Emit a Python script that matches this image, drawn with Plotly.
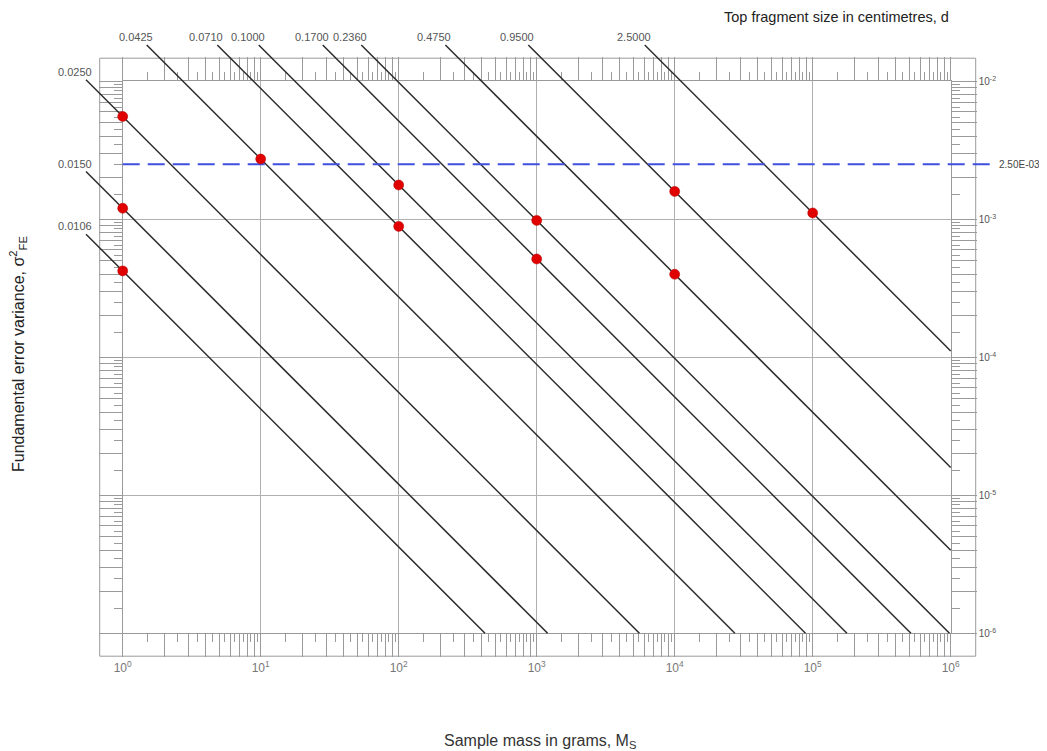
import numpy as np
import plotly.graph_objects as go

# ------------------------------------------------------------------ data
d_labels = ["0.0106", "0.0150", "0.0250", "0.0425", "0.0710", "0.1000",
            "0.1700", "0.2360", "0.4750", "0.9500", "2.5000"]
# sampling stage (red dot) on each line: sample mass (g) and FE variance
dot_mass = [1, 1, 1, 10, 100, 100, 1000, 1000, 1e4, 1e4, 1e5]
dot_var = [4.22e-4, 1.20e-3, 5.55e-3, 2.73e-3, 8.87e-4, 1.77e-3,
           5.15e-4, 9.80e-4, 3.99e-4, 1.59e-3, 1.11e-3]
safety_var = 2.5e-3
safety_label = "2.50E-03"

x_decades = [0, 1, 2, 3, 4, 5, 6]
x_tick_labels = ["10<sup>0</sup>", "10<sup>1</sup>", "10<sup>2</sup>", "10<sup>3</sup>",
                 "10<sup>4</sup>", "10<sup>5</sup>", "10<sup>6</sup>"]
y_decades = [-6, -5, -4, -3, -2]
y_tick_labels = ["10<sup>-6</sup>", "10<sup>-5</sup>", "10<sup>-4</sup>",
                 "10<sup>-3</sup>", "10<sup>-2</sup>"]

# ------------------------------------------------------------------ geometry (page pixels)
W, H = 1047, 751
OFF = 8                              # page body margin
X0, Y0, D = 122.7, 81.2, 138.0      # px of M=1, px of var=1e-2, px per decade
BAND = 23
FONT = "Liberation Sans, Arial, Helvetica, sans-serif"


def fx(px):
    return (px - OFF) / W


def fy(py):
    return 1 - (py - OFF) / H


def logm_at(px):
    return (px - X0) / D


def logv_at(py):
    return -2 - (py - Y0) / D


LOGM_LEFT = logm_at(86)      # where lines starting on the left begin
LOGV_TOP = logv_at(45)       # where lines starting on top begin
XMIN, XMAX = x_decades[0], x_decades[-1]
YMIN, YMAX = y_decades[0], y_decades[-1]

GRAY = "#9a9a9a"
LINE = "#2b2b2b"

# ruler ticks
x_int = [m * 10.0 ** k for k in range(XMIN, XMAX) for m in range(1, 10)] + [10.0 ** XMAX]
x_half = [(m + 0.5) * 10.0 ** k for k in range(XMIN, XMAX) for m in range(1, 10)]
x_int_text = [x_tick_labels[x_decades.index(int(round(np.log10(v))))]
              if abs(np.log10(v) - round(np.log10(v))) < 1e-9 else "" for v in x_int]
y_int = [m * 10.0 ** k for k in range(YMIN, YMAX) for m in range(1, 10)] + [10.0 ** YMAX]
y_half = [(m + 0.5) * 10.0 ** k for k in range(YMIN, YMAX) for m in range(1, 10)]
y_int_text = [y_tick_labels[y_decades.index(int(round(np.log10(v))))]
              if abs(np.log10(v) - round(np.log10(v))) < 1e-9 else "" for v in y_int]

fig = go.Figure()

# empty traces so every axis is drawn
for xa, ya in [("x", "y"), ("x2", "y2"), ("x3", "y3")]:
    fig.add_trace(go.Scatter(x=[None], y=[None], xaxis=xa, yaxis=ya,
                             showlegend=False, hoverinfo="skip"))

# ---- nomogram lines (slope -1 in log-log), drawn on the full-page axes
annotations = []
for lab, m, v in zip(d_labels, dot_mass, dot_var):
    a = np.log10(v) + np.log10(m)           # log var at M = 1 g
    s = max(LOGM_LEFT, a - LOGV_TOP)
    e = min(XMAX, a - YMIN)
    fig.add_trace(go.Scatter(x=[10 ** s, 10 ** e], y=[10 ** (a - s), 10 ** (a - e)],
                             mode="lines", line=dict(color=LINE, width=1.5),
                             xaxis="x4", yaxis="y4", showlegend=False, hoverinfo="skip"))
    annotations.append(dict(x=s, y=a - s, xref="x4", yref="y4", text=lab,
                            showarrow=False, xshift=-11, yshift=8,
                            xanchor="center", yanchor="middle",
                            font=dict(family=FONT, size=11, color="#555")))

# ---- safety line
safety_end = 10 ** logm_at(997)
fig.add_trace(go.Scatter(x=[10.0 ** XMIN, safety_end], y=[safety_var, safety_var],
                         mode="lines", line=dict(color="#3f4fe0", width=2, dash="17px,8px"),
                         xaxis="x4", yaxis="y4", showlegend=False, hoverinfo="skip"))
annotations.append(dict(x=np.log10(safety_end), y=np.log10(safety_var), xref="x4", yref="y4",
                        text=safety_label, showarrow=False, xanchor="left", yanchor="middle",
                        xshift=0, font=dict(family=FONT, size=10, color="#444")))

# ---- sampling stages
fig.add_trace(go.Scatter(x=dot_mass, y=dot_var, mode="markers",
                         marker=dict(color="#e00000", size=10, line=dict(color="#b00000", width=0.5)),
                         xaxis="x4", yaxis="y4", showlegend=False, hoverinfo="skip"))

# ---- titles
annotations += [
    dict(x=fx(836), y=fy(17), xref="paper", yref="paper", showarrow=False,
         xanchor="center", yanchor="middle",
         text="Top fragment size in centimetres, d",
         font=dict(family=FONT, size=14.5, color="#222")),
    dict(x=fx(18), y=fy(354), xref="paper", yref="paper", showarrow=False, textangle=-90,
         xanchor="center", yanchor="middle",
         text="Fundamental error variance, σ<sup>2</sup><sub>FE</sub>",
         font=dict(family=FONT, size=16, color="#222")),
    dict(x=fx(540), y=fy(741), xref="paper", yref="paper", showarrow=False,
         xanchor="center", yanchor="middle",
         text="Sample mass in grams, M<sub>S</sub>",
         font=dict(family=FONT, size=16, color="#333")),
]

dom_x = [fx(X0), fx(X0 + (XMAX - XMIN) * D)]
dom_y = [fy(Y0 + (YMAX - YMIN) * D), fy(Y0)]

ruler_common = dict(type="log", tickmode="array", ticks="outside", ticklen=BAND,
                    tickcolor=GRAY, tickwidth=1, showline=True, linecolor=GRAY,
                    showgrid=False, zeroline=False, fixedrange=True, automargin=False)

fig.update_layout(
    template="none",
    width=W, height=H,
    margin=dict(l=0, r=0, t=0, b=0, pad=0),
    paper_bgcolor="white", plot_bgcolor="rgba(0,0,0,0)",
    showlegend=False,
    font=dict(family=FONT),
    xaxis=dict(**ruler_common, domain=dom_x, range=[XMIN, XMAX], anchor="y", side="bottom",
               tickvals=x_int, ticktext=x_int_text,
               tickfont=dict(family=FONT, size=12, color="#777"),
               minor=dict(tickmode="array", tickvals=x_half, ticks="outside", ticklen=8,
                          tickcolor=GRAY, showgrid=False)),
    xaxis2=dict(**ruler_common, overlaying="x", range=[XMIN, XMAX], anchor="y2", side="top",
                tickvals=x_int, showticklabels=False,
                minor=dict(tickmode="array", tickvals=x_half, ticks="outside", ticklen=8,
                           tickcolor=GRAY, showgrid=False)),
    xaxis3=dict(type="log", overlaying="x", range=[XMIN, XMAX], anchor="y3",
                tickmode="array", tickvals=[10.0 ** k for k in x_decades],
                showgrid=True, gridcolor="#b0b0b0", gridwidth=1, ticks="",
                showticklabels=False, showline=False, zeroline=False, automargin=False),
    yaxis=dict(**ruler_common, domain=dom_y, range=[YMIN, YMAX], anchor="x", side="left",
               tickvals=y_int, showticklabels=False,
               minor=dict(tickmode="array", tickvals=y_half, ticks="outside", ticklen=8,
                          tickcolor=GRAY, showgrid=False)),
    yaxis2=dict(**{**ruler_common, "ticklen": BAND + 2}, overlaying="y", range=[YMIN, YMAX],
                anchor="x2", side="right",
                tickvals=y_int, ticktext=y_int_text,
                tickfont=dict(family=FONT, size=10, color="#555"),
                minor=dict(tickmode="array", tickvals=y_half, ticks="outside", ticklen=8,
                           tickcolor=GRAY, showgrid=False)),
    yaxis3=dict(type="log", overlaying="y", range=[YMIN, YMAX], anchor="x3",
                tickmode="array", tickvals=[10.0 ** k for k in y_decades],
                showgrid=True, gridcolor="#b0b0b0", gridwidth=1, ticks="",
                showticklabels=False, showline=False, zeroline=False, automargin=False),
    xaxis4=dict(type="log", domain=[0, 1], range=[logm_at(OFF), logm_at(OFF + W)], anchor="y4",
                visible=False, fixedrange=True, automargin=False),
    yaxis4=dict(type="log", domain=[0, 1], range=[logv_at(OFF + H), logv_at(OFF)], anchor="x4",
                visible=False, fixedrange=True, automargin=False),
    annotations=annotations,
    shapes=[dict(type="rect", xref="paper", yref="paper",
                 x0=fx(X0 - BAND), x1=fx(X0 + (XMAX - XMIN) * D + BAND + 2),
                 y0=fy(Y0 + (YMAX - YMIN) * D + BAND), y1=fy(Y0 - BAND),
                 line=dict(color=GRAY, width=1), layer="below")],
)

fig.write_html("out.html")
